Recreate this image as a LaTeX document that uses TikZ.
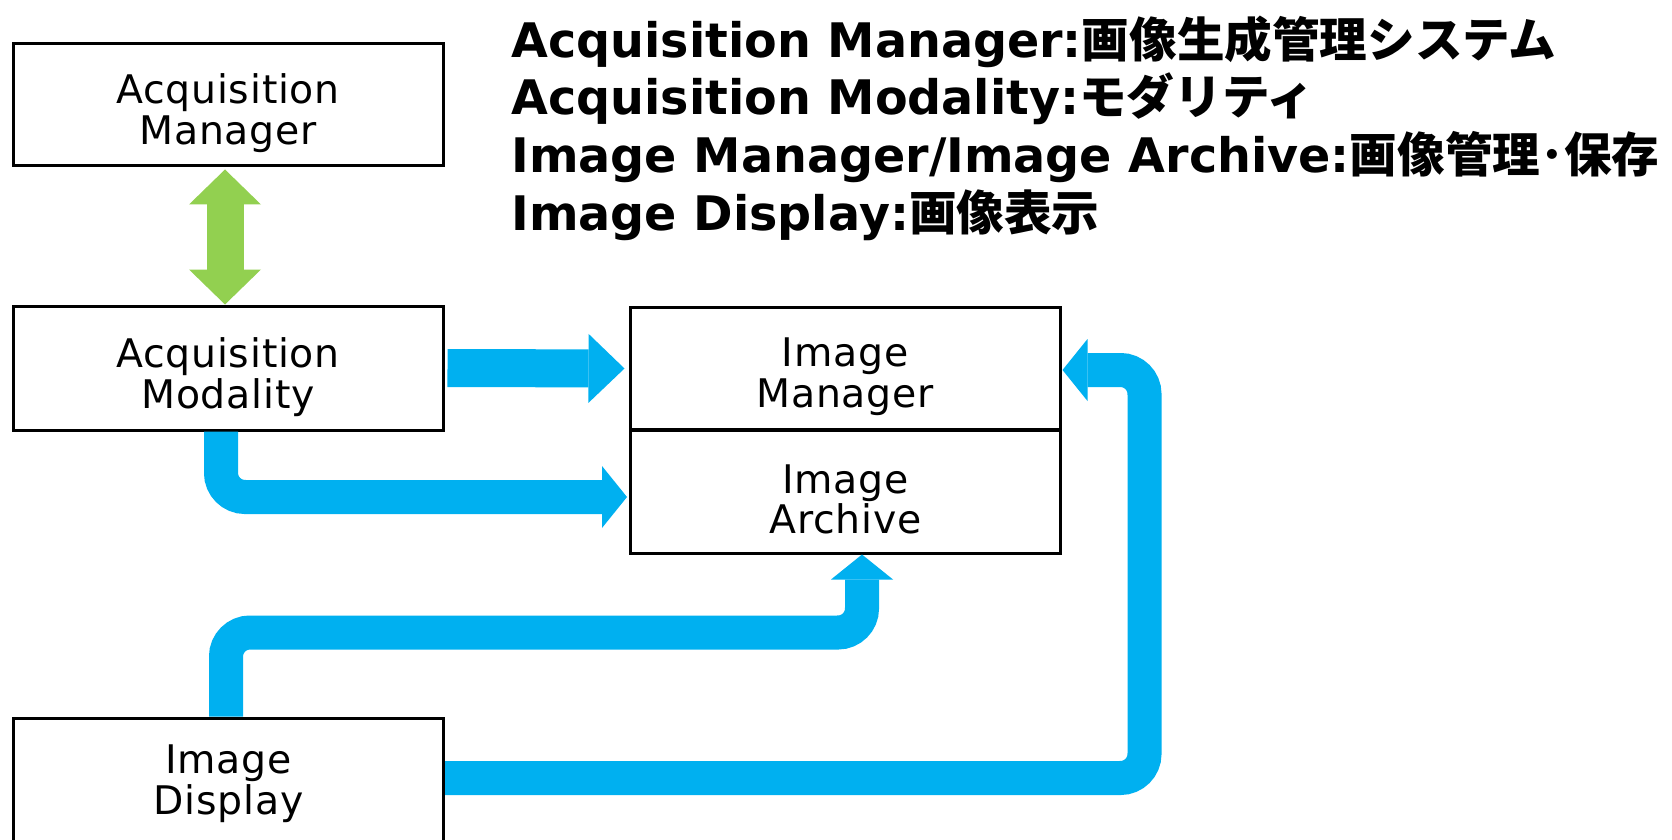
\documentclass[tikz,border=0pt]{standalone}
\usepackage{fontspec}
\setmainfont{DejaVu Sans}
\newfontfamily\boxfont{DejaVu Sans}[LetterSpace=2]
\newfontfamily\cjkfont{Noto Sans CJK JP}
\usetikzlibrary{arrows.meta,calc}
\definecolor{cblue}{HTML}{00B0F0}
\definecolor{cgreen}{HTML}{92D050}
\newcommand{\jp}[1]{{\cjkfont\bfseries #1}}
\begin{document}
\begin{tikzpicture}[x=0.5pt,y=-0.5pt,
  box/.style={draw=black, line width=1.5pt, fill=white, minimum width=215pt, minimum height=61pt, inner sep=0pt},
  boxtext/.style={inner sep=0pt, align=center, font=\boxfont\fontsize{19.7}{20.3}\selectfont},
  hd/.style={anchor=base west, inner sep=0pt, font=\bfseries\fontsize{23.8}{28}\selectfont},
  flow/.style={draw=cblue, line width=17pt, rounded corners=12pt, -{Triangle[width=31pt,length=12.5pt,line width=0pt]}},
  bigflow/.style={draw=cblue, line width=19pt, -{Triangle[width=34.5pt,length=18pt,line width=0pt]}},
  twoway/.style={draw=cgreen, line width=18.5pt, {Triangle[width=36pt,length=17.5pt,line width=0pt]}-{Triangle[width=36pt,length=17.5pt,line width=0pt]}}]
\clip (0,0) rectangle (1672,840);
\fill[white] (0,0) rectangle (1672,840);

\node[box] (am) at (228,105) {};
\node[box, minimum height=62pt] (amod) at (228,368) {};
\node[box] (im) at (845,368.5) {};
\node[box, minimum height=61.5pt] (ia) at (845.5,491.5) {};
\node[box, minimum height=63pt] (id) at (228.5,781) {};

\node[boxtext] (amt) at ($(am)+(0,8)$) {Acquisition\\Manager};
\node[boxtext] (amodt) at ($(amod)+(0,9)$) {Acquisition\\Modality};
\node[boxtext] (imt) at ($(im)+(0,8)$) {Image\\Manager};
\node[boxtext] (iat) at ($(ia)+(0,8)$) {Image\\Archive};
\node[boxtext] (idt) at ($(id)+(0,3)$) {Image\\Display};

\draw[twoway] ($(am.south)+(-3,2)$) -- ($(amod.north)+(-3,0)$);
\draw[bigflow] ($(amod.east)+(3,0)$) -- ($(im.west)+(-4,0)$);
\draw[flow] ($(amod.south)+(-7,0)$) |- ($(ia.west)+(-2,5.5)$);
\draw[flow] ($(id.north)+(-2.5,0)$) -- ++(0,-84) -| ($(ia.south)+(16.5,0)$);
\draw[flow] ($(id.east)+(0,-3)$) -| ($(im.east)+(83,1.5)$) -- ($(im.east)+(1,1.5)$);

\node[hd] (h1) at (511,58) {Acquisition Manager:\jp{画像生成管理システム}};
\node[hd] (h2) at (511,115) {Acquisition Modality:\jp{モダリティ}};
\node[hd] (h3) at (511,173) {Image Manager/Image Archive:\jp{画像管理･保存}};
\node[hd] (h4) at (511,230) {Image Display:\jp{画像表示}};
\end{tikzpicture}
\end{document}
